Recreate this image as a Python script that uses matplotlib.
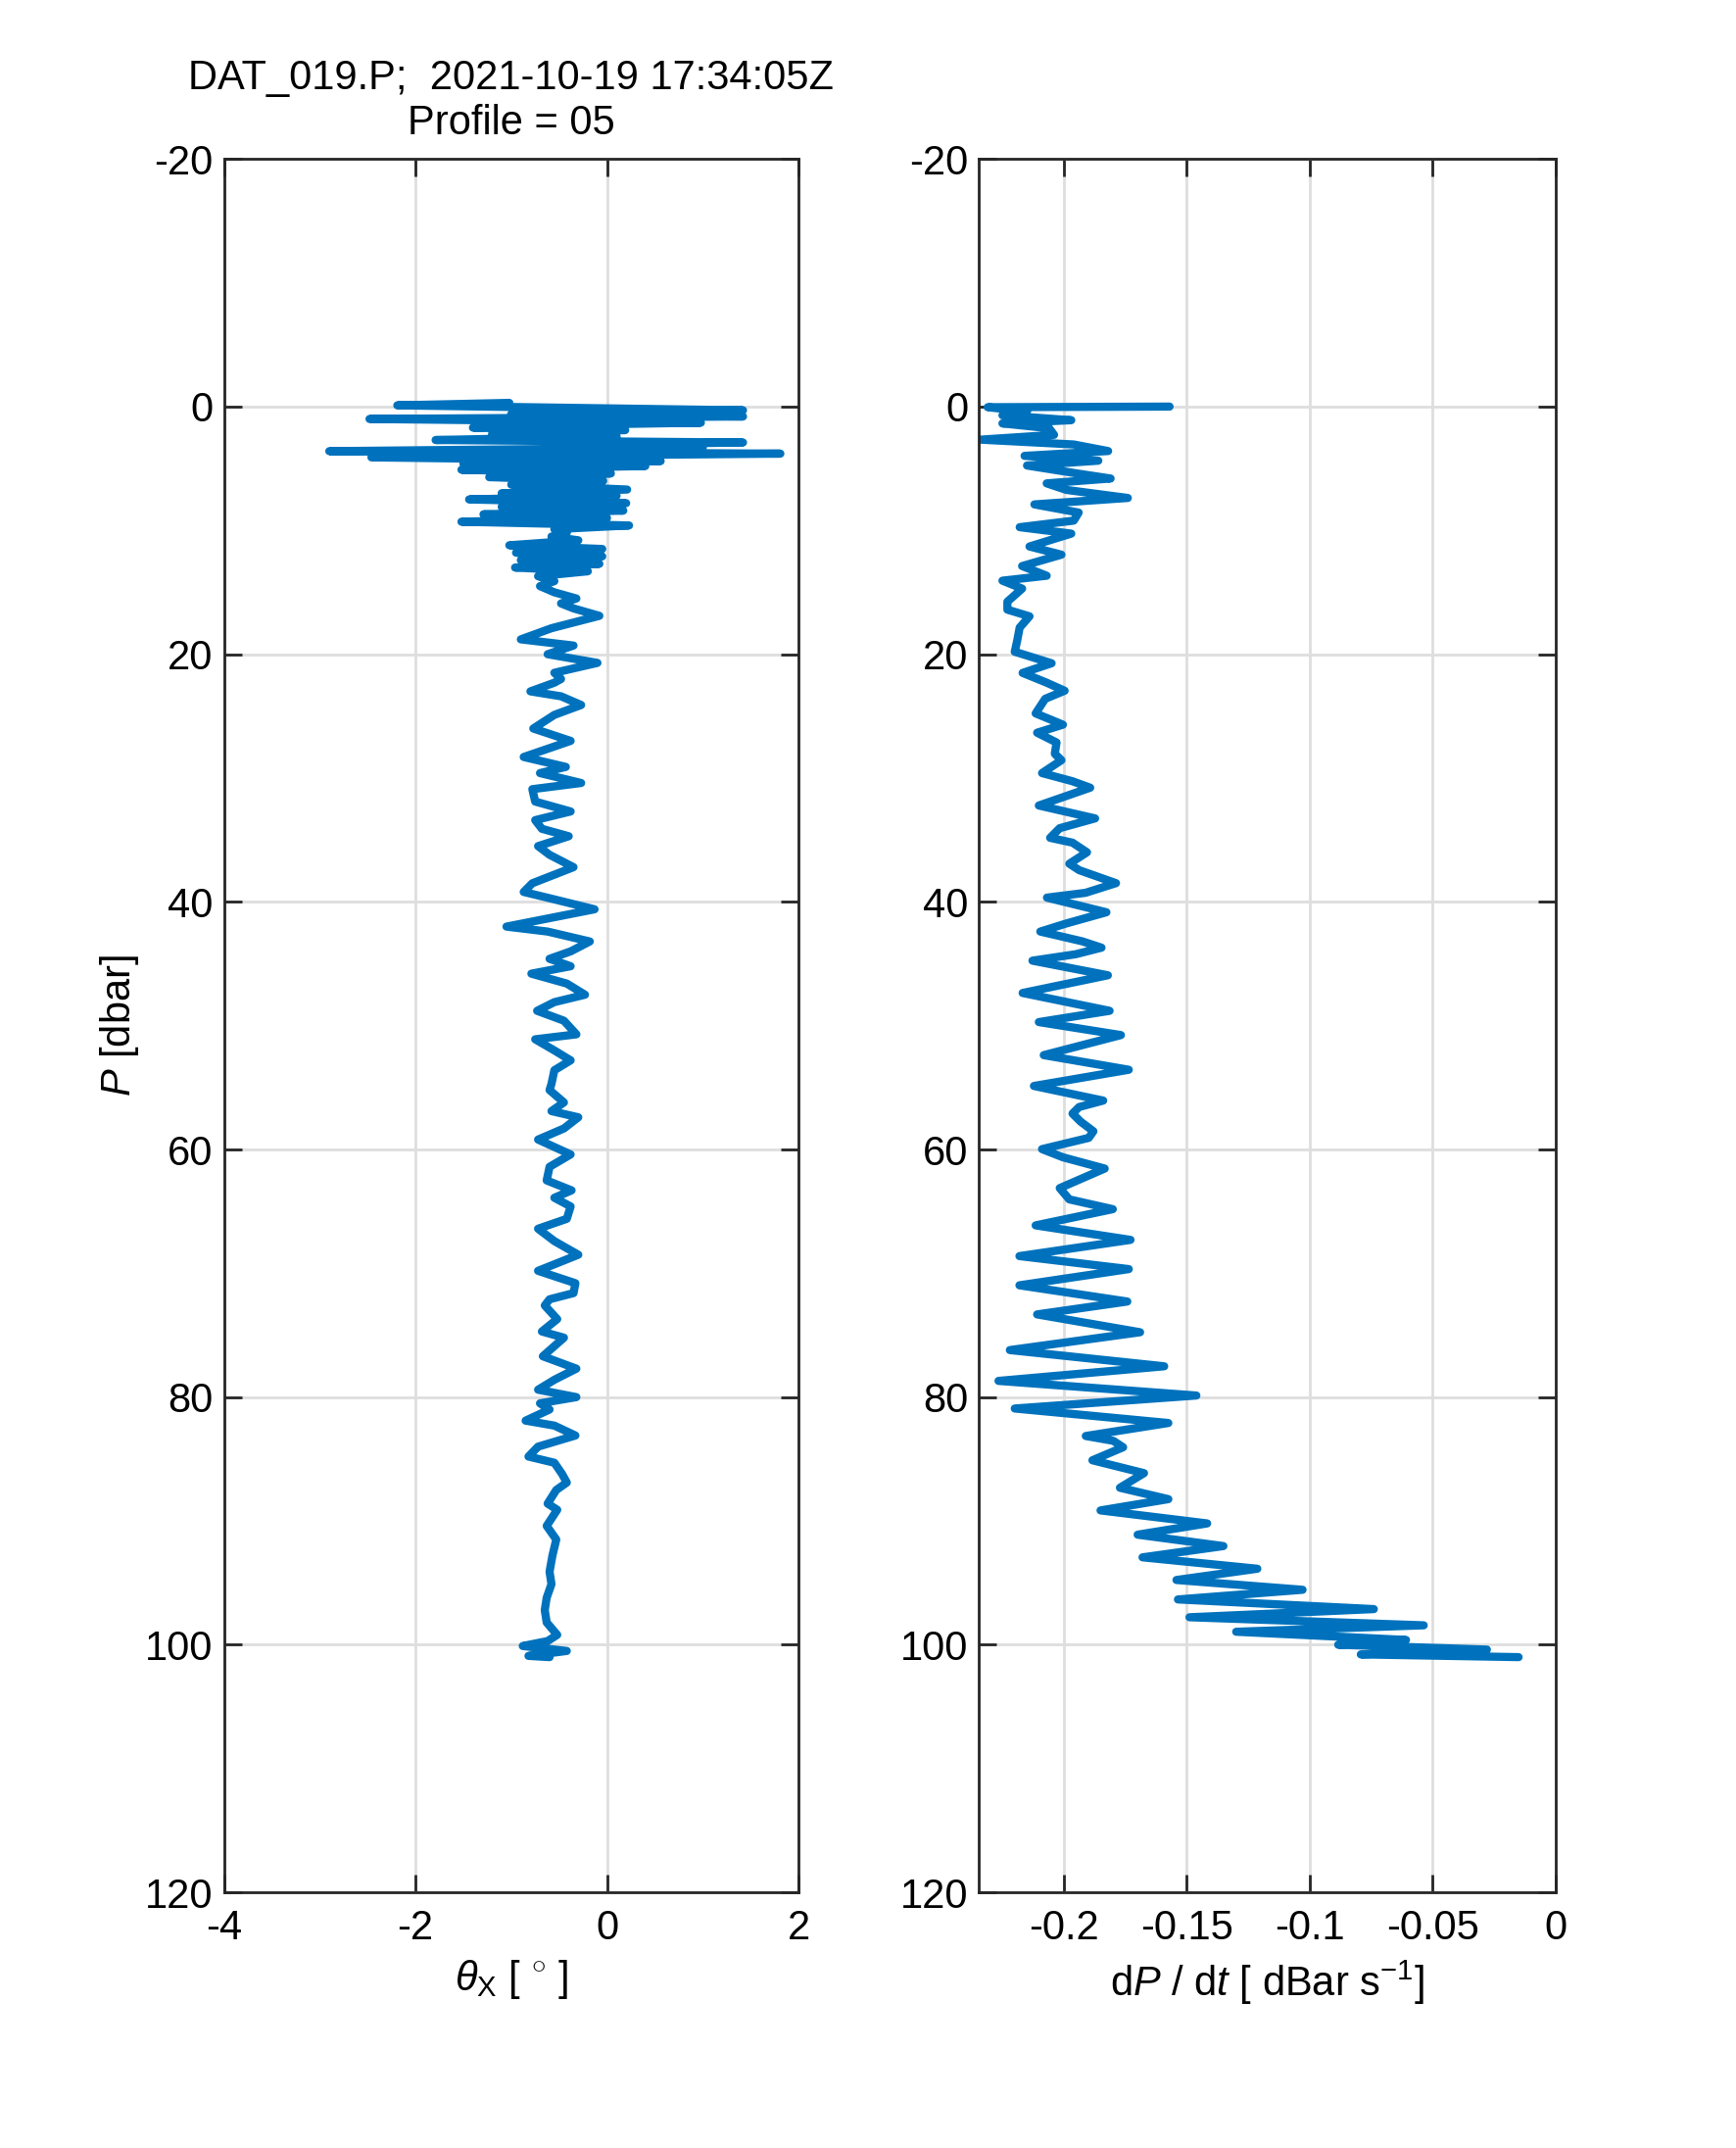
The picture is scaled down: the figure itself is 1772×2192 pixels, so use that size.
import numpy as np
import matplotlib
matplotlib.use("Agg")
import matplotlib.pyplot as plt

plt.rcParams['font.family'] = ['Liberation Sans', 'DejaVu Sans']
plt.rcParams['mathtext.fontset'] = 'custom'
plt.rcParams['mathtext.rm'] = 'Liberation Sans'
plt.rcParams['mathtext.it'] = 'Liberation Sans:italic'

# --- data ---
# pitch angle profile (P in dbar, theta_X in degrees)
theta_p = [-0.3, -0.1, 0.3, 0.6, 0.8, 1.0, 1.3, 1.5, 1.7, 1.9, 2.2, 2.4, 2.7, 2.9, 3.1, 3.3,
           3.6, 3.8, 4.1, 4.4, 4.6, 4.8, 5.1, 5.4, 5.7, 6.0, 6.3, 6.7, 7.0, 7.2, 7.5, 7.8,
           8.1, 8.4, 8.7, 9.0, 9.3, 9.6, 9.9, 10.2, 10.5, 10.8, 11.2, 11.5, 11.8, 12.1, 12.4,
           12.7, 13.0, 13.3, 13.7, 14.1, 14.5, 15.0, 15.5, 15.9, 16.3, 16.9, 17.9, 18.8, 19.3,
           20.0, 20.7, 21.5, 22.0, 22.3, 23.0, 23.4, 24.1, 24.9, 26.0, 27.0, 28.3, 29.1, 29.6,
           30.4, 30.9, 31.9, 32.7, 33.4, 34.1, 34.7, 35.5, 36.2, 37.2, 38.5, 39.2, 39.8, 40.6,
           42.0, 42.4, 43.2, 44.0, 44.6, 45.2, 45.8, 46.6, 47.5, 48.1, 48.8, 49.6, 50.7, 51.1,
           52.0, 52.8, 53.6, 54.7, 55.2, 56.2, 56.9, 57.4, 58.3, 59.2, 60.4, 61.4, 62.5, 63.3,
           63.9, 64.6, 65.6, 66.4, 67.4, 68.5, 69.8, 70.8, 71.6, 72.1, 72.6, 73.7, 74.7, 75.2,
           76.7, 77.7, 78.6, 79.4, 80.0, 80.5, 81.0, 81.9, 82.3, 83.1, 84.0, 84.8, 85.3, 86.2,
           86.9, 87.5, 88.6, 89.1, 90.4, 91.5, 92.8, 94.1, 95.1, 96.2, 97.2, 98.2, 99.2, 99.7,
           100.1, 100.5, 100.9, 101.0]
theta_x = [-1.02, -2.19, 1.42, -1.0, 1.42, -2.48, 0.98, -0.6, -1.40, 0.19, -1.2, 0.1, -1.79, 1.42, -0.4, 1.0,
           -2.9, 1.81, -2.46, 0.56, -1.5, 0.4, -1.52, 0.04, -1.23, -0.04, -1.0, 0.21, -1.1, 0.1, -1.44, 0.2,
           -1.1, 0.17, -1.29, 0.0, -1.52, 0.23, -0.55, -0.42, -0.58, -0.3, -1.02, -0.05, -0.95, -0.05, -0.9,
           -0.08, -0.96, -0.2, -0.72, -0.55, -0.70, -0.55, -0.32, -0.48, -0.35, -0.08, -0.58, -0.90, -0.35,
           -0.62, -0.10, -0.55, -0.48, -0.55, -0.80, -0.48, -0.27, -0.55, -0.77, -0.38, -0.87, -0.43, -0.70,
           -0.27, -0.78, -0.75, -0.38, -0.75, -0.68, -0.40, -0.72, -0.60, -0.35, -0.78, -0.87, -0.55, -0.13,
           -1.05, -0.62, -0.18, -0.38, -0.6, -0.38, -0.79, -0.42, -0.23, -0.55, -0.73, -0.45, -0.32, -0.75,
           -0.55, -0.38, -0.55, -0.58, -0.60, -0.45, -0.58, -0.30, -0.45, -0.72, -0.38, -0.60, -0.63, -0.37,
           -0.55, -0.38, -0.42, -0.72, -0.55, -0.30, -0.72, -0.33, -0.35, -0.60, -0.65, -0.52, -0.68, -0.45,
           -0.67, -0.32, -0.55, -0.72, -0.32, -0.70, -0.60, -0.85, -0.55, -0.33, -0.72, -0.82, -0.55, -0.47,
           -0.42, -0.53, -0.62, -0.52, -0.63, -0.53, -0.57, -0.60, -0.58, -0.63, -0.65, -0.63, -0.52, -0.62,
           -0.88, -0.42, -0.82, -0.60]

# fall rate profile (P in dbar, dP/dt in dBar/s)
dpdt_p = [0.0, 0.05, 0.4, 0.7, 1.1, 1.36, 1.75, 2.28, 2.67, 3.06, 3.59, 3.98, 4.37, 4.76, 5.42, 5.81,
          6.2, 6.73, 7.38, 7.9, 8.56, 9.21, 9.74, 10.26, 11.3, 11.96, 12.88, 13.66, 14.06, 14.7, 15.76,
          16.4, 16.94, 17.85, 18.9, 19.8, 20.73, 21.51, 22.3, 22.95, 23.6, 24.78, 25.69, 26.34, 27.13,
          28.04, 28.56, 29.6, 30.26, 30.78, 32.22, 33.26, 34.05, 34.83, 35.22, 36.0, 36.92, 37.44, 38.49,
          39.27, 39.66, 40.84, 41.75, 42.4, 43.19, 43.7, 44.23, 44.75, 45.93, 47.36, 48.8, 49.71, 50.76,
          52.38, 53.56, 54.87, 56.05, 56.57, 57.1, 57.75, 58.53, 59.06, 59.97, 60.63, 61.54, 62.33, 63.12,
          64.03, 64.82, 66.13, 67.3, 68.61, 69.66, 70.97, 72.28, 73.32, 74.76, 76.2, 77.51, 78.69, 79.87,
          80.92, 82.09, 83.14, 83.53, 84.05, 85.1, 86.14, 87.32, 88.24, 89.15, 90.2, 91.11, 92.03, 92.94,
          93.86, 94.77, 95.56, 96.34, 97.12, 97.78, 98.43, 98.95, 99.61, 100.0, 100.39, 100.78, 101.0]
dpdt = [-0.157, -0.231, -0.215, -0.225, -0.197, -0.225, -0.206, -0.204, -0.234, -0.196, -0.182, -0.216,
        -0.186, -0.215, -0.194, -0.181, -0.207, -0.199, -0.174, -0.212, -0.194, -0.196, -0.218, -0.197,
        -0.214, -0.201, -0.217, -0.207, -0.225, -0.217, -0.223, -0.223, -0.214, -0.218, -0.219, -0.220,
        -0.205, -0.2168, -0.207, -0.1997, -0.2076, -0.2115, -0.2004, -0.2109, -0.203, -0.2037, -0.201,
        -0.2089, -0.1965, -0.1893, -0.2102, -0.1873, -0.2017, -0.2056, -0.1965, -0.1906, -0.1978, -0.1938,
        -0.1788, -0.1912, -0.2069, -0.1827, -0.1991, -0.2096, -0.1925, -0.1847, -0.1952, -0.2128, -0.1821,
        -0.2168, -0.1814, -0.2102, -0.1768, -0.2082, -0.1736, -0.2122, -0.184, -0.1938, -0.1965, -0.1932,
        -0.188, -0.1899, -0.2089, -0.2004, -0.1834, -0.1925, -0.2017, -0.1978, -0.1801, -0.2115, -0.1729,
        -0.2181, -0.1736, -0.2181, -0.1742, -0.2109, -0.169, -0.222, -0.1592, -0.2266, -0.1461, -0.2200,
        -0.1575, -0.1911, -0.1799, -0.1759, -0.1884, -0.1674, -0.1772, -0.1575, -0.1851, -0.1417, -0.17,
        -0.1351, -0.168, -0.1213, -0.1542, -0.1029, -0.1536, -0.0739, -0.1489, -0.0536, -0.1299, -0.0608,
        -0.0884, -0.0279, -0.0792, -0.015]

p_ticks = [-20, 0, 20, 40, 60, 80, 100, 120]
theta_ticks = [-4, -2, 0, 2]
dpdt_ticks = [-0.2, -0.15, -0.1, -0.05, 0]
dpdt_ticklabels = ['-0.2', '-0.15', '-0.1', '-0.05', '0']

line_col = '#0072BD'
axis_col = '#262626'
fs = 15

fig = plt.figure(figsize=(8.86, 10.96), dpi=200)
ax1 = fig.add_axes([0.129, 0.119, 0.331, 0.807])
ax2 = fig.add_axes([0.564, 0.119, 0.332, 0.807])


def style_axes(ax):
    ax.set_ylim(120, -20)
    ax.set_yticks(p_ticks)
    ax.set_yticklabels([str(t) for t in p_ticks])
    ax.grid(True, color='#dedede', linewidth=1.0)
    ax.set_axisbelow(True)
    ax.tick_params(direction='in', length=6.5, width=1.0, colors=axis_col,
                   labelcolor='black', labelsize=fs, top=True, right=True, pad=6)
    ax.tick_params(axis='y', pad=4)
    for s in ax.spines.values():
        s.set_color(axis_col)
        s.set_linewidth(1.0)


ax1.plot(theta_x, theta_p, color=line_col, linewidth=3.0,
         solid_joinstyle='round', solid_capstyle='round')
style_axes(ax1)
ax1.set_xlim(-4, 2)
ax1.set_xticks(theta_ticks)
ax1.set_xticklabels([str(t) for t in theta_ticks])
ax1.set_xlabel(r'$\theta_{\mathrm{X}}$ [ $^{\circ}$ ]', fontsize=fs)
ax1.xaxis.set_label_coords(0.5, -0.038)
ax1.set_ylabel(r'$P$ [dbar]', fontsize=fs)
ax1.yaxis.set_label_coords(-0.145, 0.5)
ax1.set_title('DAT_019.P;  2021-10-19 17:34:05Z\nProfile = 05', fontsize=fs, pad=9)

ax2.plot(dpdt, dpdt_p, color=line_col, linewidth=3.0,
         solid_joinstyle='round', solid_capstyle='round')
style_axes(ax2)
ax2.set_xlim(-0.2345, 0)
ax2.set_xticks(dpdt_ticks)
ax2.set_xticklabels(dpdt_ticklabels)
ax2.set_xlabel(r'd$P$ / d$t$ [ dBar s$^{-1}$]', fontsize=fs)
ax2.xaxis.set_label_coords(0.5, -0.038)

fig.savefig('out.png', dpi=200)
